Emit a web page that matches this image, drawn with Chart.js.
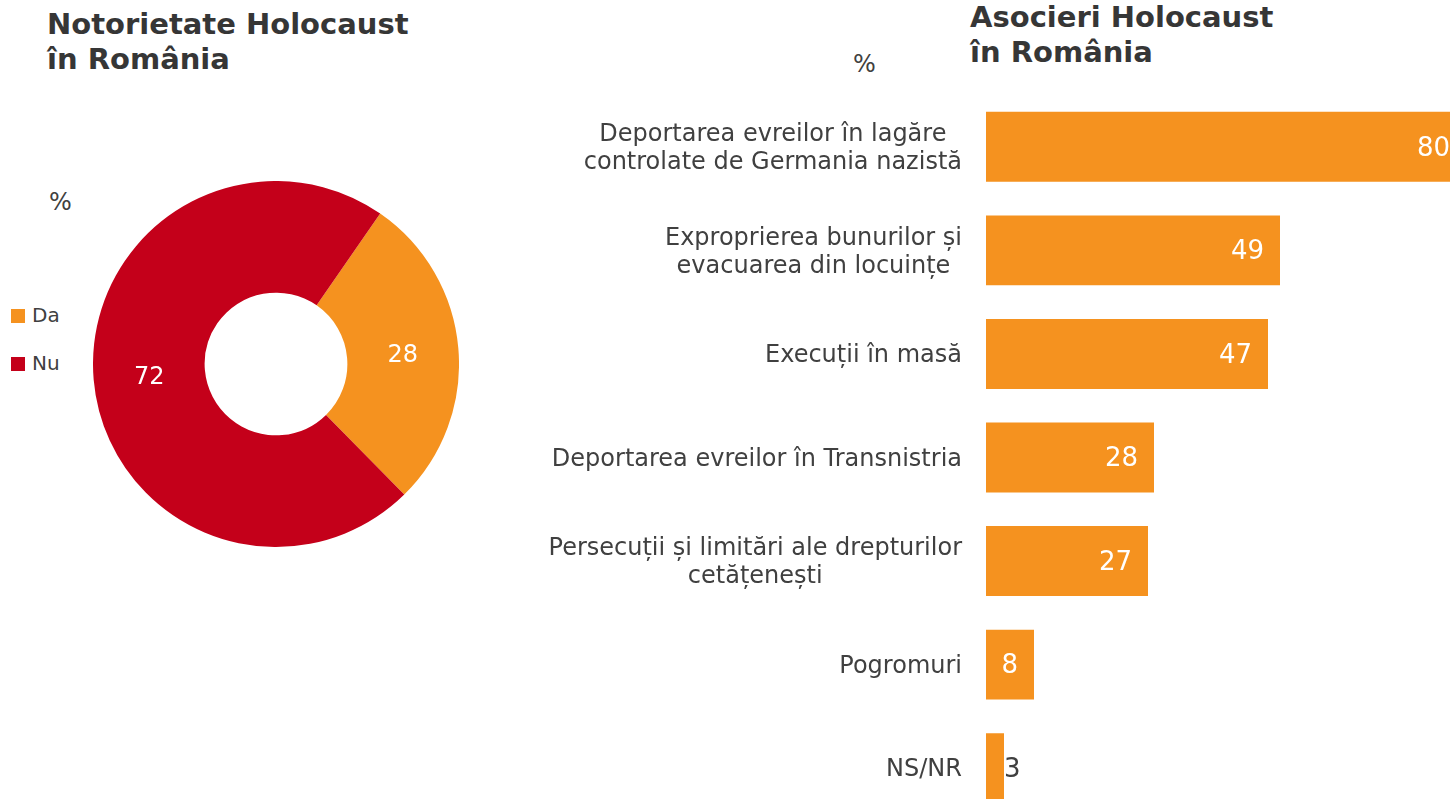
<!DOCTYPE html>
<html>
<head>
<meta charset="utf-8">
<script src="https://cdn.jsdelivr.net/npm/chart.js@4.4.0/dist/chart.umd.min.js"></script>
<style>
  html, body { margin: 0; padding: 0; background: #fff; overflow: hidden; width: 1450px; height: 799px; }
  body { position: relative; font-family: "DejaVu Sans", Verdana, sans-serif; color: #404040; }
  .title { position: absolute; font-weight: bold; font-size: 29px; line-height: 35px; color: #363636; }
  .pct { position: absolute; font-size: 24px; }
  .leg { position: absolute; left: 11px; font-size: 20px; line-height: 24px; }
  .leg i { display: inline-block; width: 14px; height: 14px; margin-right: 7px; vertical-align: -1px; }
  canvas { position: absolute; }
</style>
</head>
<body>
<div class="title" style="left:47px;top:7px">Notorietate Holocaust<br>în România</div>
<div class="title" style="left:970px;top:0px">Asocieri Holocaust<br>în România</div>
<div class="pct" style="left:49px;top:188px">%</div>
<div class="pct" style="left:853px;top:50px">%</div>
<div id="legend"></div>

<canvas id="donut" width="366" height="366" style="left:93px;top:181px"></canvas>
<canvas id="bars" width="966" height="725" style="left:500px;top:95px"></canvas>

<script>
// Notorietate
const pieLabels = ["Da", "Nu"];
const pieValues = [28, 72];
const pieColors = ["#F5921F", "#C4001A"];

// Asocieri
const barLabels = [
  ["Deportarea evreilor în lagăre", "controlate de Germania nazistă"],
  ["Exproprierea bunurilor și", "evacuarea din locuințe"],
  "Execuții în masă",
  "Deportarea evreilor în Transnistria",
  ["Persecuții și limitări ale drepturilor", "cetățenești"],
  "Pogromuri",
  "NS/NR"
];
const barValues = [80, 49, 47, 28, 27, 8, 3];
const barColor = "#F5921F";

const FONT = "'DejaVu Sans', Verdana, sans-serif";
Chart.defaults.font.family = FONT;
Chart.defaults.color = "#404040";

// legend
const legendEl = document.getElementById("legend");
pieLabels.forEach((lab, i) => {
  const d = document.createElement("div");
  d.className = "leg";
  d.style.top = (303 + i * 48) + "px";
  d.innerHTML = '<i style="background:' + pieColors[i] + '"></i>' + lab;
  legendEl.appendChild(d);
});

const valueLabels = {
  id: "valueLabels",
  afterDatasetsDraw(chart) {
    const ctx = chart.ctx;
    const meta = chart.getDatasetMeta(0);
    const vals = chart.data.datasets[0].data;
    const isPie = chart.config.type === "doughnut";
    ctx.save();
    ctx.font = (isPie ? 24 : 26) + "px " + FONT;
    ctx.textBaseline = "middle";
    meta.data.forEach((el, i) => {
      const v = vals[i];
      if (isPie) {
        const p = el.tooltipPosition();
        ctx.fillStyle = "#fff";
        ctx.textAlign = "center";
        ctx.fillText(v, p.x, p.y + 3);
      } else if (v > 5) {
        ctx.fillStyle = "#fff";
        ctx.textAlign = "right";
        ctx.fillText(v, el.x - 16, el.y + 2);
      } else {
        ctx.fillStyle = "#404040";
        ctx.textAlign = "left";
        ctx.fillText(v, el.x, el.y + 2);
      }
    });
    ctx.restore();
  }
};

// category labels: right-aligned block, lines centred on each other
const categoryLabels = {
  id: "categoryLabels",
  afterDraw(chart) {
    const ctx = chart.ctx;
    const y = chart.scales.y;
    const right = chart.chartArea.left - 24;
    ctx.save();
    ctx.font = "24px " + FONT;
    ctx.fillStyle = "#404040";
    ctx.textAlign = "center";
    ctx.textBaseline = "middle";
    chart.data.labels.forEach((lab, i) => {
      const lines = Array.isArray(lab) ? lab : [lab];
      const w = Math.max(...lines.map(l => ctx.measureText(l).width));
      const cx = right - w / 2;
      const cy = y.getPixelForTick(i) + 2;
      lines.forEach((l, j) => {
        ctx.fillText(l, cx, cy + (j - (lines.length - 1) / 2) * 28);
      });
    });
    ctx.restore();
  }
};

new Chart(document.getElementById("donut"), {
  type: "doughnut",
  data: {
    labels: pieLabels,
    datasets: [{ data: pieValues, backgroundColor: pieColors, borderWidth: 0 }]
  },
  options: {
    responsive: false,
    animation: false,
    cutout: "39%",
    rotation: 34.7,
    layout: { padding: 0 },
    plugins: { legend: { display: false }, tooltip: { enabled: false } }
  },
  plugins: [valueLabels]
});

new Chart(document.getElementById("bars"), {
  type: "bar",
  data: {
    labels: barLabels,
    datasets: [{
      data: barValues,
      backgroundColor: barColor,
      barPercentage: 0.675,
      categoryPercentage: 1
    }]
  },
  options: {
    indexAxis: "y",
    responsive: false,
    animation: false,
    layout: { padding: 0 },
    scales: {
      x: { display: false, min: 0, max: 80 },
      y: {
        grid: { display: false, drawTicks: false },
        border: { display: false },
        afterFit(s) { s.width = 486; s.paddingTop = 0; s.paddingBottom = 0; },
        ticks: { display: false }
      }
    },
    plugins: { legend: { display: false }, tooltip: { enabled: false } }
  },
  plugins: [valueLabels, categoryLabels]
});
</script>
</body>
</html>
